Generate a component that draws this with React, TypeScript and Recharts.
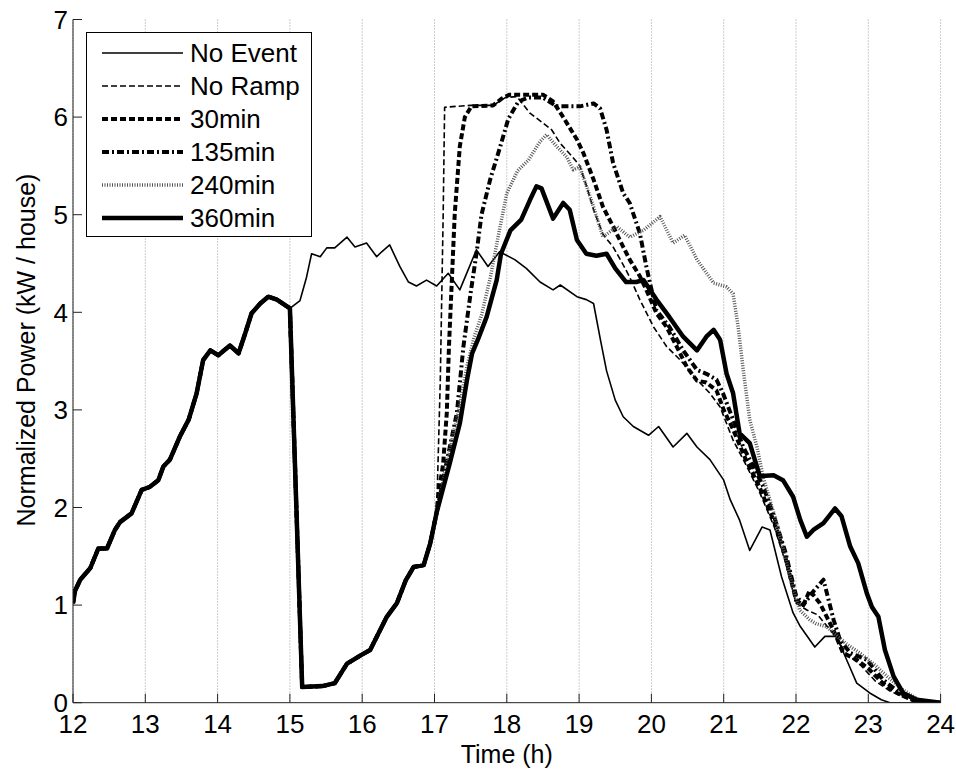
import { CartesianGrid, Legend, Line, LineChart, XAxis, YAxis } from "recharts";

const FONT = "'Liberation Sans', Arial, Helvetica, sans-serif";

// common part before the event starts (all runs identical)
const baseT = [12, 12.03, 12.1, 12.24, 12.35, 12.47, 12.58, 12.65, 12.81, 12.95, 13.06, 13.18, 13.25, 13.34, 13.48, 13.6, 13.71, 13.8, 13.9, 14.01, 14.17, 14.29, 14.38, 14.47, 14.59, 14.7, 14.82, 15.0];
const baseV = [1.02, 1.15, 1.26, 1.38, 1.58, 1.58, 1.77, 1.85, 1.94, 2.18, 2.21, 2.28, 2.42, 2.49, 2.73, 2.9, 3.17, 3.51, 3.61, 3.56, 3.66, 3.58, 3.78, 3.99, 4.09, 4.16, 4.13, 4.04];

// curtailed period shared by every event run
const dipT = [15.17, 15.45, 15.62, 15.79, 15.99, 16.11, 16.34, 16.48, 16.6, 16.71, 16.85, 16.94, 17.03];
const dipV = [0.16, 0.17, 0.2, 0.4, 0.49, 0.54, 0.88, 1.02, 1.25, 1.39, 1.41, 1.63, 1.95];

const noEventT = [15.14, 15.23, 15.3, 15.42, 15.51, 15.62, 15.79, 15.9, 16.06, 16.2, 16.27, 16.38, 16.52, 16.64, 16.75, 16.89, 17.03, 17.19, 17.35, 17.58, 17.74, 17.9, 18.11, 18.27, 18.46, 18.64, 18.74, 18.97, 19.1, 19.2, 19.3, 19.38, 19.5, 19.61, 19.75, 19.96, 20.1, 20.3, 20.49, 20.63, 20.81, 21.0, 21.09, 21.22, 21.36, 21.53, 21.64, 21.8, 21.96, 22.06, 22.26, 22.4, 22.56, 22.7, 22.84, 23.02, 23.18, 23.3, 24];
const noEventV = [4.12, 4.36, 4.6, 4.57, 4.66, 4.66, 4.77, 4.67, 4.71, 4.57, 4.62, 4.69, 4.47, 4.31, 4.27, 4.33, 4.27, 4.4, 4.23, 4.64, 4.47, 4.62, 4.54, 4.45, 4.31, 4.23, 4.28, 4.16, 4.13, 4.09, 3.7, 3.4, 3.1, 2.93, 2.83, 2.74, 2.83, 2.62, 2.76, 2.62, 2.49, 2.28, 2.08, 1.87, 1.56, 1.8, 1.77, 1.29, 0.92, 0.78, 0.57, 0.68, 0.68, 0.44, 0.2, 0.1, 0.03, 0, 0];

const noRampT = [17.08, 17.12, 17.14, 17.3, 17.5, 17.81, 17.98, 18.14, 18.32, 18.5, 18.62, 18.74, 18.9, 19.01, 19.1, 19.2, 19.33, 19.47, 19.6, 19.7, 19.84, 20.03, 20.21, 20.4, 20.63, 20.81, 20.95, 21.13, 21.32, 21.5, 21.7, 21.85, 22.0, 22.15, 22.3, 22.5, 22.7, 22.9, 23.1, 23.3, 23.5, 23.7, 24];
const noRampV = [3.3, 5.0, 6.1, 6.11, 6.12, 6.12, 6.2, 6.21, 6.04, 5.94, 5.87, 5.73, 5.6, 5.5, 5.3, 5.05, 4.8, 4.67, 4.5, 4.36, 4.13, 3.85, 3.65, 3.51, 3.31, 3.17, 3.03, 2.69, 2.42, 2.15, 1.8, 1.45, 1.02, 0.95, 0.9, 0.72, 0.5, 0.38, 0.22, 0.12, 0.05, 0, 0];

const min30T = [17.05, 17.12, 17.17, 17.2, 17.24, 17.28, 17.35, 17.42, 17.51, 17.81, 17.93, 18.04, 18.5, 18.64, 18.78, 18.97, 19.06, 19.2, 19.33, 19.47, 19.61, 19.7, 19.84, 19.93, 20.07, 20.21, 20.35, 20.49, 20.63, 20.76, 20.9, 21.0, 21.13, 21.3, 21.5, 21.7, 21.85, 22.0, 22.1, 22.19, 22.33, 22.52, 22.65, 22.84, 23.0, 23.2, 23.4, 23.6, 23.8, 24];
const min30V = [2.11, 2.45, 2.97, 3.65, 4.33, 5.01, 5.7, 6.0, 6.11, 6.12, 6.19, 6.23, 6.23, 6.16, 6.0, 5.77, 5.63, 5.36, 5.08, 4.88, 4.67, 4.54, 4.37, 4.23, 3.99, 3.85, 3.65, 3.44, 3.3, 3.28, 3.2, 3.0, 2.8, 2.5, 2.2, 1.85, 1.5, 1.05, 1.0, 1.15, 1.02, 0.74, 0.51, 0.44, 0.35, 0.2, 0.1, 0.03, 0, 0];

const min135T = [17.15, 17.31, 17.4, 17.5, 17.58, 17.65, 17.77, 17.91, 18.02, 18.16, 18.3, 18.5, 18.69, 19.01, 19.2, 19.29, 19.38, 19.47, 19.61, 19.7, 19.84, 19.93, 19.98, 20.07, 20.25, 20.44, 20.63, 20.76, 20.9, 20.99, 21.13, 21.27, 21.41, 21.55, 21.7, 21.85, 22.0, 22.1, 22.25, 22.38, 22.52, 22.61, 22.75, 22.98, 23.21, 23.44, 23.67, 23.85, 24];
const min135V = [2.4, 2.97, 3.65, 4.2, 4.6, 5.0, 5.36, 5.7, 5.98, 6.16, 6.2, 6.2, 6.11, 6.11, 6.14, 6.09, 5.87, 5.53, 5.22, 5.12, 4.81, 4.47, 4.3, 4.02, 3.85, 3.61, 3.41, 3.37, 3.31, 3.17, 2.9, 2.62, 2.42, 2.21, 1.9, 1.55, 1.1, 1.0, 1.15, 1.26, 0.85, 0.64, 0.51, 0.44, 0.23, 0.1, 0.03, 0, 0];

const min240T = [17.2, 17.35, 17.45, 17.55, 17.65, 17.77, 17.9, 18.0, 18.15, 18.3, 18.46, 18.55, 18.69, 18.83, 18.92, 19.01, 19.2, 19.33, 19.52, 19.7, 19.89, 20.12, 20.3, 20.46, 20.63, 20.86, 21.04, 21.13, 21.2, 21.27, 21.36, 21.46, 21.55, 21.65, 21.75, 21.85, 21.95, 22.05, 22.19, 22.28, 22.42, 22.55, 22.7, 22.9, 23.1, 23.26, 23.48, 23.7, 23.9, 24];
const min240V = [2.55, 3.05, 3.45, 3.75, 3.97, 4.35, 4.85, 5.22, 5.45, 5.56, 5.75, 5.82, 5.7, 5.59, 5.46, 5.49, 5.08, 4.77, 4.88, 4.77, 4.84, 4.98, 4.71, 4.79, 4.54, 4.3, 4.26, 4.19, 3.85, 3.41, 2.9, 2.62, 2.3, 2.05, 1.8, 1.5, 1.2, 0.95, 0.85, 0.81, 0.78, 0.7, 0.6, 0.5, 0.38, 0.27, 0.13, 0.03, 0, 0];

const min360T = [17.12, 17.21, 17.35, 17.45, 17.52, 17.6, 17.72, 17.86, 17.92, 18.05, 18.2, 18.32, 18.41, 18.48, 18.64, 18.78, 18.87, 18.97, 19.1, 19.24, 19.38, 19.5, 19.65, 19.79, 19.89, 20.07, 20.25, 20.44, 20.63, 20.76, 20.86, 20.95, 21.04, 21.13, 21.22, 21.36, 21.5, 21.69, 21.82, 21.96, 22.06, 22.15, 22.24, 22.38, 22.54, 22.63, 22.75, 22.86, 22.98, 23.05, 23.14, 23.23, 23.35, 23.48, 23.67, 24];
const min360V = [2.2, 2.45, 2.86, 3.31, 3.58, 3.72, 3.95, 4.33, 4.6, 4.84, 4.95, 5.15, 5.29, 5.27, 4.96, 5.12, 5.05, 4.74, 4.6, 4.58, 4.6, 4.45, 4.31, 4.31, 4.33, 4.13, 3.95, 3.75, 3.61, 3.75, 3.82, 3.72, 3.37, 3.17, 2.76, 2.66, 2.32, 2.33, 2.28, 2.11, 1.87, 1.7, 1.77, 1.84, 1.99, 1.91, 1.6, 1.43, 1.12, 0.98, 0.88, 0.54, 0.27, 0.1, 0.03, 0];

const xTicks = [12, 13, 14, 15, 16, 17, 18, 19, 20, 21, 22, 23, 24];
const yTicks = [0, 1, 2, 3, 4, 5, 6, 7];

const toPoints = (...parts: number[][][]) =>
    parts.flatMap(([ts, vs]) => ts.map((t, i) => ({ t, v: vs[i] })));

const event = (ts: number[], vs: number[]) =>
    toPoints([baseT, baseV], [dipT, dipV], [ts, vs]);

const series = [
    { name: "No Event", data: toPoints([baseT, baseV], [noEventT, noEventV]), color: "#000", width: 1.6, dash: undefined },
    { name: "No Ramp", data: event(noRampT, noRampV), color: "#000", width: 1.6, dash: "6 3" },
    { name: "30min", data: event(min30T, min30V), color: "#000", width: 4, dash: "6 3" },
    { name: "135min", data: event(min135T, min135V), color: "#000", width: 4, dash: "7 3 2 3" },
    { name: "240min", data: event(min240T, min240V), color: "#555", width: 3.5, dash: "1 1.5" },
    { name: "360min", data: event(min360T, min360V), color: "#000", width: 4.5, dash: undefined },
];

// plot box in page pixels
const LEFT = 73;
const TOP = 19.5;
const RIGHT = 940.6;
const BOTTOM = 702.7;
const Y_AXIS_W = 60;
const X_AXIS_H = 40;

function XTick({ x, payload }: { x?: number; payload?: { value: number } }) {
    return (
        <g>
            <line x1={x} x2={x} y1={BOTTOM} y2={BOTTOM - 9} stroke="#222" />
            <text x={x} y={733} textAnchor="middle" fontSize={26} fontFamily={FONT} fill="#000">
                {payload?.value}
            </text>
        </g>
    );
}

function YTick({ y, payload }: { y?: number; payload?: { value: number } }) {
    return (
        <g>
            <line x1={LEFT} x2={LEFT + 9} y1={y} y2={y} stroke="#222" />
            <text x={68} y={(y ?? 0) + 9.3} textAnchor="end" fontSize={26} fontFamily={FONT} fill="#000">
                {payload?.value}
            </text>
        </g>
    );
}

function LegendBox() {
    return (
        <div
            style={{
                position: "relative",
                width: 226,
                height: 205,
                border: "1px solid #000",
                background: "#fff",
                boxSizing: "border-box",
                fontFamily: FONT,
                fontSize: 26,
                color: "#000",
            }}
        >
            {series.map((s, i) => (
                <div
                    key={s.name}
                    style={{ position: "absolute", left: 0, top: 20 + i * 33 - 15, height: 30, display: "flex", alignItems: "center" }}
                >
                    <svg width={100} height={30} style={{ display: "block" }}>
                        <line
                            x1={15}
                            x2={96}
                            y1={15}
                            y2={15}
                            stroke={s.color}
                            strokeWidth={s.width}
                            strokeDasharray={s.dash}
                        />
                    </svg>
                    <span style={{ marginLeft: 3, lineHeight: "30px", whiteSpace: "nowrap" }}>{s.name}</span>
                </div>
            ))}
        </div>
    );
}

const Y_LABEL_X = 35;
const Y_LABEL_Y = 350;

export default function App() {
    return (
        <div style={{ position: "absolute", left: 0, top: 0, width: 956, height: 773, background: "#fff" }}>
            <LineChart
                width={956}
                height={773}
                margin={{
                    top: TOP,
                    right: 956 - RIGHT,
                    bottom: 773 - BOTTOM - X_AXIS_H,
                    left: LEFT - Y_AXIS_W,
                }}
            >
                <CartesianGrid horizontal={false} stroke="#999" strokeDasharray="1 2" />
                <XAxis
                    type="number"
                    dataKey="t"
                    domain={[12, 24]}
                    ticks={xTicks}
                    height={X_AXIS_H}
                    stroke="#222"
                    tickLine={false}
                    tick={<XTick />}
                    allowDataOverflow
                    label={() => (
                        <text x={(LEFT + RIGHT) / 2} y={763} textAnchor="middle" fontSize={25} fontFamily={FONT} fill="#000">
                            Time (h)
                        </text>
                    )}
                />
                <YAxis
                    type="number"
                    domain={[0, 7]}
                    ticks={yTicks}
                    width={Y_AXIS_W}
                    stroke="#222"
                    tickLine={false}
                    tick={<YTick />}
                    allowDataOverflow
                    label={() => (
                        <text
                            x={Y_LABEL_X}
                            y={Y_LABEL_Y}
                            transform={`rotate(-90 ${Y_LABEL_X} ${Y_LABEL_Y})`}
                            textAnchor="middle"
                            fontSize={25}
                            fontFamily={FONT}
                            fill="#000"
                        >
                            Normalized Power (kW / house)
                        </text>
                    )}
                />
                <Legend
                    layout="vertical"
                    align="center"
                    verticalAlign="middle"
                    wrapperStyle={{ left: 86, top: 32, width: 226, height: 205 }}
                    content={() => <LegendBox />}
                />
                {series.map((s) => (
                    <Line
                        key={s.name}
                        data={s.data}
                        dataKey="v"
                        name={s.name}
                        type="linear"
                        stroke={s.color}
                        strokeWidth={s.width}
                        strokeDasharray={s.dash}
                        strokeLinejoin="round"
                        dot={false}
                        activeDot={false}
                        isAnimationActive={false}
                    />
                ))}
            </LineChart>
        </div>
    );
}
